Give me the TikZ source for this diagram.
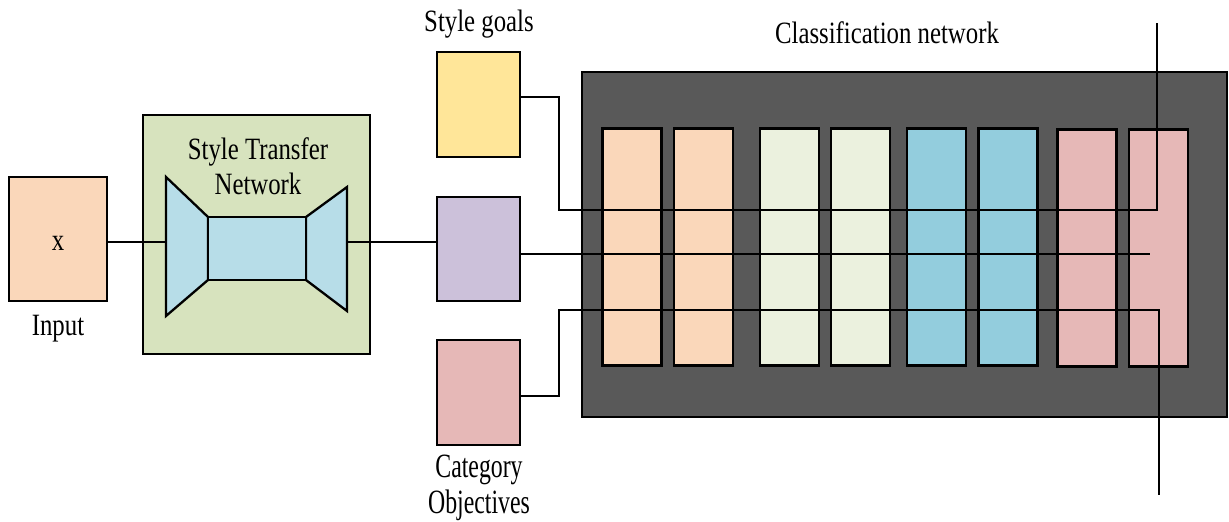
\documentclass[tikz,border=0pt]{standalone}
\usepackage{fontspec}
\setmainfont{Liberation Serif}
\usepackage{graphicx}
\newcommand{\nar}[1]{\scalebox{0.8}[1]{#1}}
\newcommand{\narr}[1]{\scalebox{0.7}[1]{#1}}
\definecolor{peach}{HTML}{FAD7BA}
\definecolor{panel}{HTML}{D7E3BE}
\definecolor{netblue}{HTML}{B7DDE8}
\definecolor{goal}{HTML}{FFE699}
\definecolor{lilac}{HTML}{CCC1DA}
\definecolor{rose}{HTML}{E6B8B7}
\definecolor{slab}{HTML}{595959}
\definecolor{mint}{HTML}{EBF1DE}
\definecolor{teal}{HTML}{93CDDD}
\begin{document}
\begin{tikzpicture}[x=1pt,y=-1pt,
  blk/.style={draw=black, line width=2.3pt, inner sep=0pt},
  colm/.style={blk, minimum width=59pt, minimum height=237pt},
  side/.style={blk, minimum width=83pt, minimum height=105pt},
  lbl/.style={font=\fontsize{31}{34}\selectfont, inner sep=0pt, anchor=base},
  biglbl/.style={lbl, font=\fontsize{34}{38}\selectfont},
  wire/.style={line width=2.3pt}]
\useasboundingbox (0,0) rectangle (1229,522);

% input image
\node[blk, fill=peach, minimum width=98pt, minimum height=124pt] (in) at (58,239) {};
\node[lbl] (xl) at (58,250) {\nar{x}};
\node[lbl] (inl) at (58,335) {\nar{Input}};

% style transfer network
\node[blk, fill=panel, minimum width=227pt, minimum height=239pt] (stn) at (256.5,234.5) {};
\node[lbl] (stn1) at (258,159) {\nar{Style Transfer}};
\node[lbl] (stn2) at (258,194) {\nar{Network}};
\draw[blk, fill=netblue] (166,177) -- (208,217) -- (208,280) -- (166,316) -- cycle;
\draw[blk, fill=netblue] (347,187) -- (306,217) -- (306,280) -- (347,311) -- cycle;
\node[blk, fill=netblue, minimum width=98pt, minimum height=63pt] (mid) at (257,248.5) {};
\coordinate (encL) at (166,242);
\coordinate (decR) at (347,242);

% objective boxes
\node[lbl] (sgl) at (479,31) {\nar{Style goals}};
\node[side, fill=goal] (sg) at (478.5,104.5) {};
\node[side, fill=lilac, minimum height=104pt] (pur) at (478.5,249) {};
\node[side, fill=rose] (cat) at (478.5,392.5) {};
\node[biglbl] (cat1) at (479,477) {\narr{Category}};
\node[biglbl] (cat2) at (479,513) {\narr{Objectives}};

% classification network
\node[lbl] (cnl) at (887,43) {\nar{Classification network}};
\node[blk, fill=slab, minimum width=645pt, minimum height=345pt] (cls) at (904.5,244.5) {};
\node[colm, fill=peach] (c1) at (632,247) {};
\node[colm, fill=peach] (c2) at (703.5,247) {};
\node[colm, fill=mint] (c3) at (789.5,247) {};
\node[colm, fill=mint] (c4) at (860.5,247) {};
\node[colm, fill=teal] (c5) at (936.5,247) {};
\node[colm, fill=teal] (c6) at (1008,247) {};
\node[colm, fill=rose] (c7) at (1087,248) {};
\node[colm, fill=rose] (c8) at (1158.5,248) {};

% connectors
\coordinate (top) at (1157,23);
\coordinate (mend) at (1150,254);
\coordinate (bot) at (1159,495);
\draw[wire] (in.east |- encL) -- (encL);
\draw[wire] (decR) -- (decR -| pur.west);
\draw[wire] (sg.east |- 0,97) -- (559,97) -- (559,210) -- (1157,210) -- (top);
\draw[wire] (pur.east |- 0,254) -- (mend);
\draw[wire] (cat.east |- 0,396) -- (559,396) -- (559,310) -- (1159,310) -- (bot);
\end{tikzpicture}
\end{document}
